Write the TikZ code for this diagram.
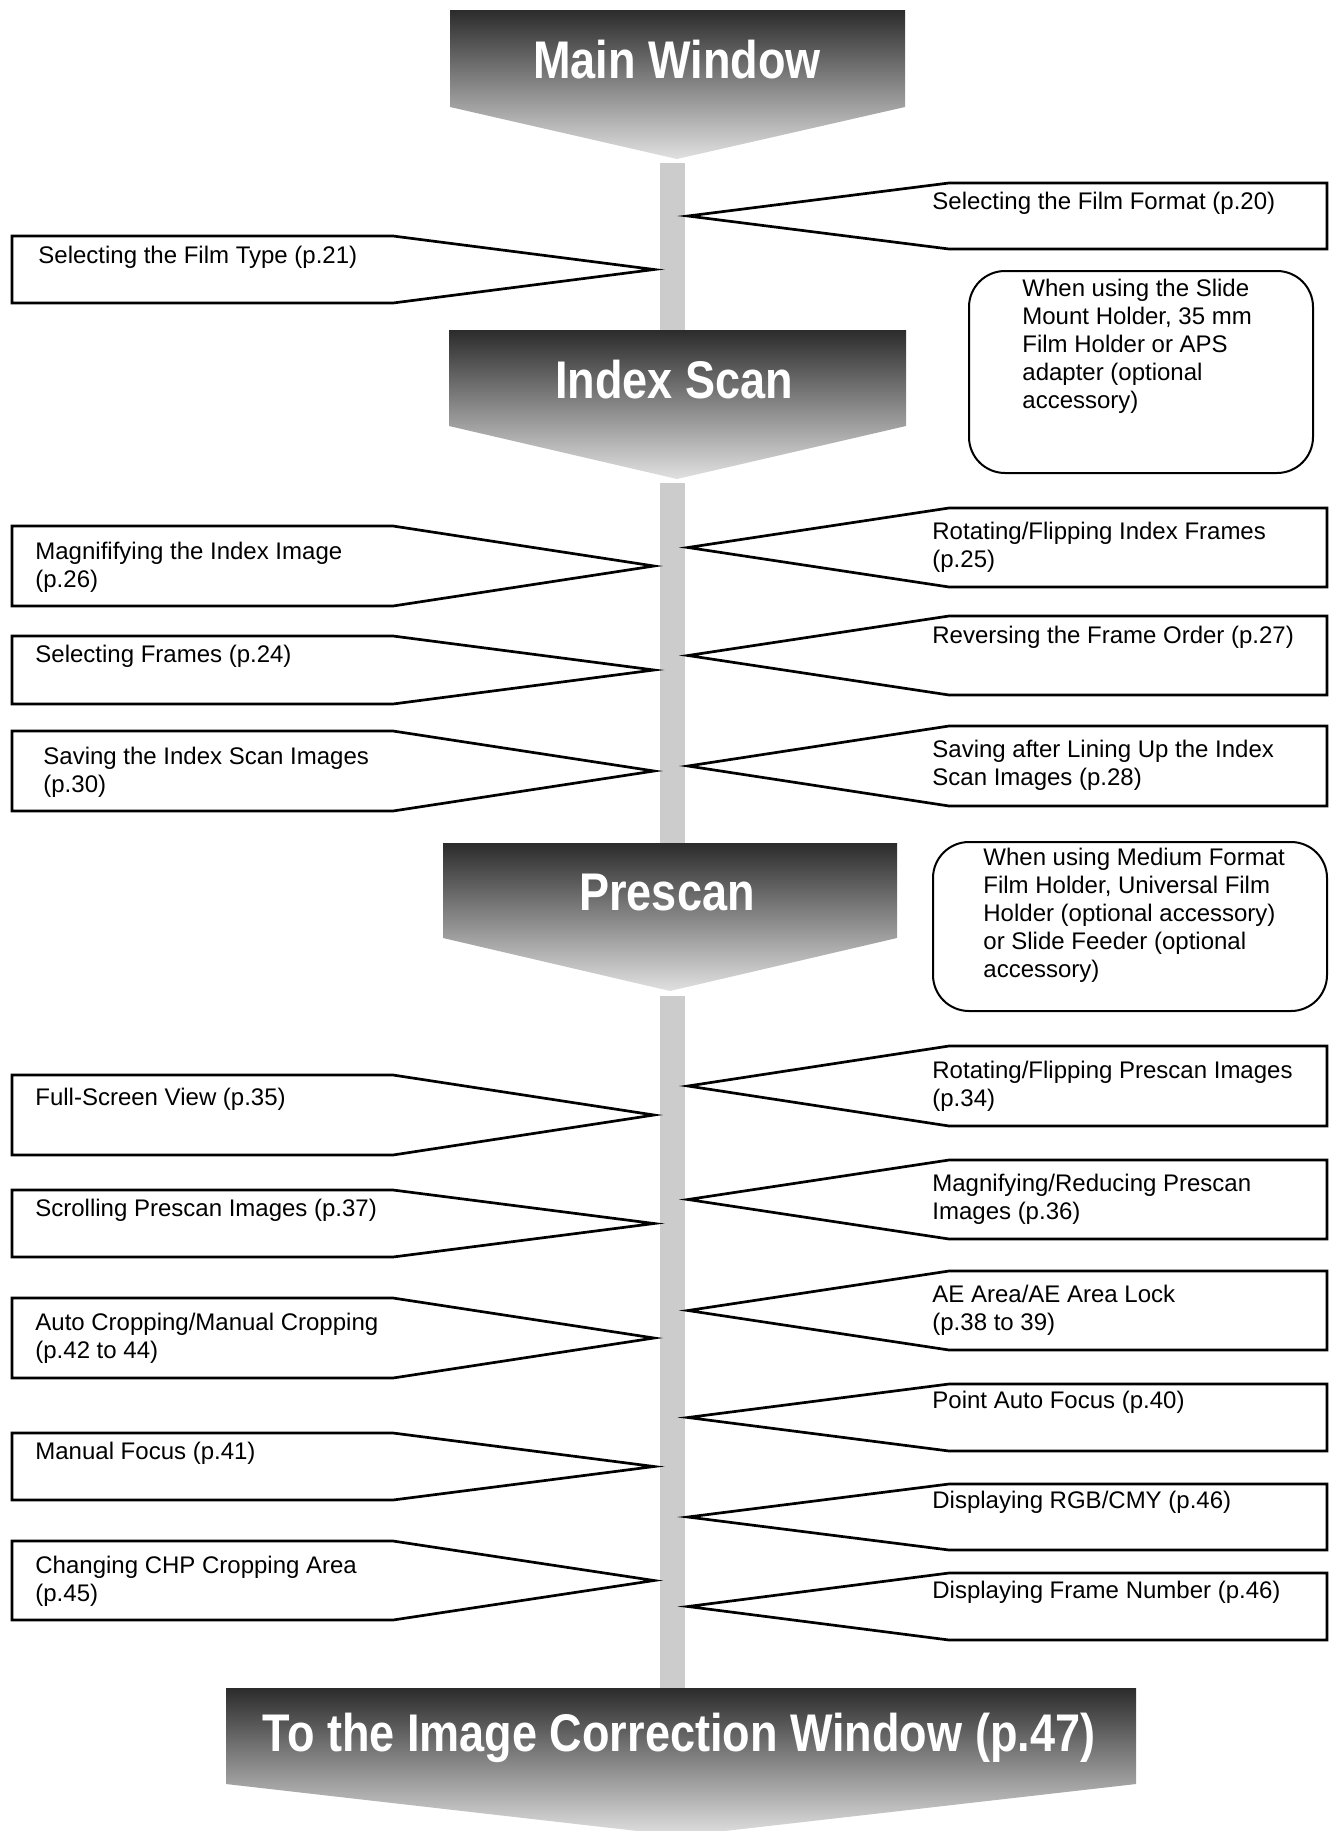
\documentclass[tikz,border=0pt]{standalone}
\usepackage{fontspec}
\setmainfont{Liberation Sans}
\newfontfamily\stagefont[FakeStretch=0.85]{Liberation Sans}
\usetikzlibrary{calc}
\tikzset{
    stage/.style={
        top color=black!83,
        middle color=black!51,
        bottom color=black!12,
    },
    stage-text/.style={
        anchor=base,
        inner sep=0pt,
        text=white,
        font=\stagefont\bfseries\fontsize{26.5pt}{30pt}\selectfont,
    },
    flow/.style={
        draw=black!20,
        line width=12.5pt,
    },
    sign/.style={
        draw=black,
        fill=white,
        line width=1.35pt,
    },
    sign-text/.style={
        anchor=north west,
        align=left,
        inner sep=0pt,
        font=\fontsize{12pt}{14pt}\selectfont,
    },
    note/.style={
        draw=black,
        line width=1pt,
        rounded corners=18pt,
    },
}
\newcommand{\leftsign}[5]{
    \draw[sign] (12,#2) -- (393,#2) -- (654,{(#2+#3)/2}) -- (393,#3) -- (12,#3) -- cycle;
    \node[sign-text] (#1) at (35,#2+#4) {#5};
}
\newcommand{\rightsign}[5]{
    \draw[sign] (1327,#2) -- (949,#2) -- (688,{(#2+#3)/2}) -- (949,#3) -- (1327,#3) -- cycle;
    \node[sign-text] (#1) at (932,#2+#4) {#5};
}

\begin{document}
\begin{tikzpicture}[x=0.5pt,y=-0.5pt]
    \useasboundingbox (0,0) rectangle (1330,1831);

    % the grey line through the stages
    \coordinate (main-out) at (672.5,163);
    \coordinate (index-in) at (672.5,330);
    \coordinate (index-out) at (672.5,483);
    \coordinate (prescan-in) at (672.5,843);
    \coordinate (prescan-out) at (672.5,996);
    \coordinate (final-in) at (672.5,1688);
    \draw[flow] (main-out) -- (index-in);
    \draw[flow] (index-out) -- (prescan-in);
    \draw[flow] (prescan-out) -- (final-in);

    % stages
    \shade[stage] (450,10) -- (905,10) -- (905,107) -- (677,159) -- (450,107) -- cycle;
    \node[stage-text] (main) at (677,78) {Main Window};
    \shade[stage] (449,330) -- (906,330) -- (906,426) -- (677,479) -- (449,426) -- cycle;
    \node[stage-text] (index) at (674,398) {Index Scan};
    \shade[stage] (443,843) -- (897,843) -- (897,938) -- (670,991) -- (443,938) -- cycle;
    \node[stage-text] (prescan) at (667,910) {Prescan};
    \shade[stage] (226,1688) -- (1136,1688) -- (1136,1784) -- (681,1836) -- (226,1784) -- cycle;
    \node[stage-text] (final) at (679,1751) {To the Image Correction Window (p.47)};

    % signs on the left
    \leftsign{film-type}{236}{303}{10}{\hspace*{1.5pt}Selecting the Film Type (p.21)}
    \leftsign{mag-index}{526}{606}{16}{Magnififying the Index Image\\(p.26)}
    \leftsign{sel-frames}{636}{704}{9}{Selecting Frames (p.24)}
    \leftsign{save-index}{731}{811}{16}{\hspace*{4pt}Saving the Index Scan Images\\\hspace*{4pt}(p.30)}
    \leftsign{full-screen}{1075}{1155}{13}{Full-Screen View (p.35)}
    \leftsign{scrolling}{1190}{1257}{9}{Scrolling Prescan Images (p.37)}
    \leftsign{auto-crop}{1298}{1378}{15}{Auto Cropping/Manual Cropping\\(p.42 to 44)}
    \leftsign{man-focus}{1433}{1500}{9}{Manual Focus (p.41)}
    \leftsign{chp-area}{1541}{1620}{15}{Changing CHP Cropping Area\\(p.45)}

    % signs on the right
    \rightsign{film-format}{183}{249}{9}{Selecting the Film Format (p.20)}
    \rightsign{rot-index}{508}{587}{14}{Rotating/Flipping Index Frames\\(p.25)}
    \rightsign{reverse}{616}{695}{10}{Reversing the Frame Order (p.27)}
    \rightsign{line-up}{726}{806}{14}{Saving after Lining Up the Index\\Scan Images (p.28)}
    \rightsign{rot-prescan}{1046}{1126}{15}{Rotating/Flipping Prescan Images\\(p.34)}
    \rightsign{mag-reduce}{1160}{1239}{14}{Magnifying/Reducing Prescan\\Images (p.36)}
    \rightsign{ae-area}{1271}{1350}{14}{AE Area/AE Area Lock\\(p.38 to 39)}
    \rightsign{point-af}{1384}{1451}{7}{Point Auto Focus (p.40)}
    \rightsign{rgb-cmy}{1484}{1550}{7}{Displaying RGB/CMY (p.46)}
    \rightsign{frame-no}{1573}{1640}{8}{Displaying Frame Number (p.46)}

    % notes
    \draw[note] (969,271) rectangle (1313,473);
    \node[sign-text] (slide-note) at (1022,279) {When using the Slide\\Mount Holder, 35 mm\\Film Holder or APS\\adapter (optional\\accessory)};
    \draw[note] (933,842) rectangle (1327,1011);
    \node[sign-text] (medium-note) at (983,848) {When using Medium Format\\Film Holder, Universal Film\\Holder (optional accessory)\\or Slide Feeder (optional\\accessory)};
\end{tikzpicture}
\end{document}
